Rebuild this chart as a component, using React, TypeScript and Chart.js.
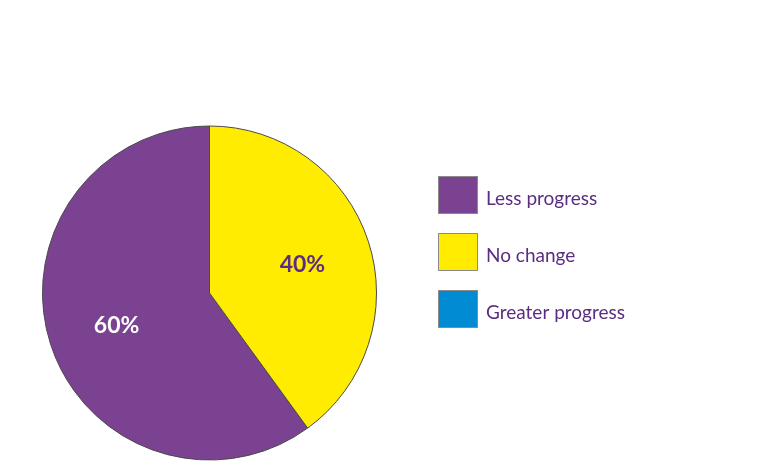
import React, { useEffect, useRef } from "react";
import { Chart, registerables } from "chart.js";

Chart.register(...registerables);

const categories = ["Less progress", "No change", "Greater progress"];
const values = [60, 40, 0];
const colors = ["#7B4291", "#FFEC00", "#008BD2"];
const labelColors = ["#FFFFFF", "#5B2C83", "#FFFFFF"];
const valueLabels = ["60%", "40%", "0%"];

const FONT = "Lato, 'Open Sans', 'DejaVu Sans', sans-serif";

const labelPlugin = {
  id: "sliceLabels",
  afterDatasetsDraw(chart: any) {
    const ctx = chart.ctx;
    const meta = chart.getDatasetMeta(0);
    ctx.save();
    meta.data.forEach((arc: any, i: number) => {
      if (!values[i]) return;
      const { x, y, startAngle, endAngle, outerRadius } = arc.getProps(
        ["x", "y", "startAngle", "endAngle", "outerRadius"],
        true
      );
      const mid = (startAngle + endAngle) / 2;
      const r = outerRadius * 0.585;
      ctx.fillStyle = labelColors[i];
      ctx.font = `bold 23px ${FONT}`;
      ctx.textAlign = "center";
      ctx.textBaseline = "middle";
      ctx.fillText(valueLabels[i], x + Math.cos(mid) * r, y + Math.sin(mid) * r + 2);
    });
    ctx.restore();
  },
};

const legendPlugin = {
  id: "customLegend",
  afterDraw(chart: any) {
    const ctx = chart.ctx;
    ctx.save();
    categories.forEach((c, i) => {
      const bx = 438;
      const by = 176 + i * 57;
      ctx.fillStyle = colors[i];
      ctx.fillRect(bx, by, 40, 38);
      ctx.strokeStyle = "#8a8a8a";
      ctx.lineWidth = 1;
      ctx.strokeRect(bx + 0.5, by + 0.5, 39, 37);
      ctx.fillStyle = "#5A2D82";
      ctx.font = `19px ${FONT}`;
      ctx.textAlign = "left";
      ctx.textBaseline = "middle";
      ctx.fillText(c, 486, by + 23);
    });
    ctx.restore();
  },
};

export default function App() {
  const ref = useRef<HTMLCanvasElement>(null);
  useEffect(() => {
    document.body.style.margin = "0";
    const chart = new Chart(ref.current!, {
      type: "pie",
      data: {
        labels: categories,
        datasets: [
          {
            data: values,
            backgroundColor: colors,
            borderColor: "#4a4a4a",
            borderWidth: 1,
          },
        ],
      },
      options: {
        animation: false,
        responsive: false,
        rotation: 144,
        layout: { padding: { left: 42, right: 391, top: 125, bottom: 10 } },
        plugins: {
          legend: { display: false },
          tooltip: { enabled: false },
        },
      },
      plugins: [labelPlugin, legendPlugin],
    });
    return () => chart.destroy();
  }, []);
  return (
    <div style={{ width: 768, height: 471 }}>
      <canvas ref={ref} width={768} height={471} style={{ width: 768, height: 471 }} />
    </div>
  );
}
